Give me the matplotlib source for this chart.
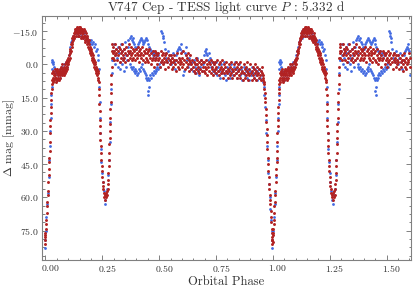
import matplotlib
matplotlib.use("Agg")
import matplotlib.pyplot as plt
import matplotlib.transforms as mtransforms
from matplotlib.ticker import AutoMinorLocator, FuncFormatter

plt.rcParams['font.family'] = 'serif'
plt.rcParams['font.serif'] = ['cmr10', 'DejaVu Serif']
plt.rcParams['mathtext.fontset'] = 'cm'
plt.rcParams['axes.unicode_minus'] = False

# ---------------- data (phase, delta mag [mmag]) ----------------
red_egress = [(-0.004,81),(-0.003,78),(-0.002,79),(-0.001,76),(0.000,77),(0.001,74),(0.003,72),(0.004,70),
              (0.006,67),(0.007,64),(0.009,62),(0.010,59),(0.011,57),(0.013,53),(0.014,50),(0.015,47),
              (0.016,44),(0.017,42),(0.018,39),(0.019,35),(0.020,31),(0.021,28),(0.022,25),(0.023,22),
              (0.024,19),(0.025,16),(0.026,13),(0.027,11),(0.028,9)]
red_early = [(0.029,7),(0.030,4),(0.032,6),(0.033,8),(0.035,3),(0.036,5),(0.038,7),(0.039,4),(0.041,6),
             (0.042,2),(0.044,5),(0.045,8),(0.047,3),(0.048,6),(0.050,4),(0.051,7),(0.053,2),(0.054,5),
             (0.056,3),(0.057,6),(0.059,4),(0.060,7),(0.062,2),(0.063,5),(0.065,3),(0.066,6),(0.068,1),
             (0.069,4),(0.071,2),(0.072,5),(0.074,3),(0.075,0),(0.077,4),(0.078,2),(0.080,5),(0.081,1),
             (0.083,3),(0.084,0),(0.086,2),(0.087,4),(0.089,1),(0.090,3),(0.092,-1),(0.093,2),(0.095,0),
             (0.096,-2)]
red_hump = [(0.097,1),(0.098,-1),(0.100,-3),(0.101,0),(0.103,-2),(0.104,-4),(0.106,-3),(0.107,-6),
            (0.109,-5),(0.110,-7),(0.112,-6),(0.113,-9),(0.115,-8),(0.116,-10),(0.118,-9),(0.119,-12),
            (0.121,-11),(0.122,-13),(0.124,-12),(0.125,-14),(0.127,-13),(0.128,-15),(0.130,-14),
            (0.131,-16),(0.133,-15),(0.134,-13),(0.136,-16),(0.137,-14),(0.139,-17),(0.140,-15),
            (0.142,-13),(0.143,-16),(0.145,-14),(0.146,-17),(0.148,-15),(0.149,-13),(0.151,-16),
            (0.152,-14),(0.154,-17),(0.155,-15),(0.157,-12),(0.158,-16),(0.160,-14),(0.161,-13),
            (0.163,-16),(0.164,-15),(0.166,-12),(0.167,-14),(0.169,-16),(0.170,-13),(0.172,-11),
            (0.173,-15),(0.175,-13),(0.176,-10),(0.178,-12),(0.179,-14),(0.181,-11),(0.182,-13),
            (0.184,-9),(0.185,-12),(0.187,-10),(0.188,-8),(0.190,-11),(0.191,-7),(0.193,-9),(0.194,-6),
            (0.196,-8),(0.197,-5),(0.199,-7),(0.200,-4),(0.202,-6),(0.203,-3),(0.205,-5),(0.206,-2),
            (0.208,-4),(0.209,-1),(0.211,-3),(0.212,0),(0.214,-2),(0.215,1),(0.217,-1),(0.218,2),
            (0.220,0),(0.221,3),(0.223,1),(0.224,4),(0.226,2),(0.227,5),(0.229,3),(0.230,6),(0.232,4),
            (0.233,7)]
red_secondary = [(0.234,8),(0.235,11),(0.236,14),(0.237,18),(0.238,21),(0.239,25),(0.240,28),(0.241,31),
                 (0.242,34),(0.243,37),(0.244,40),(0.245,43),(0.247,46),(0.248,48),(0.250,51),(0.251,53),
                 (0.253,55),(0.255,56),(0.257,58),(0.259,60),(0.261,59),(0.263,61),(0.265,58),(0.267,60),
                 (0.269,57),(0.271,59),(0.273,56),(0.274,54),(0.276,52),(0.277,49),(0.278,46),(0.279,43),
                 (0.280,40),(0.281,36),(0.282,33),(0.283,30),(0.284,27),(0.285,24),(0.286,20),(0.287,17),
                 (0.288,13),(0.289,9),(0.290,5),(0.291,1),(0.292,-3),(0.293,-6),(0.294,-9),(0.295,-5)]
red_plateau = [(0.296,-3),(0.297,-8),(0.301,-6),(0.302,-2),(0.306,-9),(0.307,-4),(0.311,-5),(0.312,-7),
               (0.316,-2),(0.317,-6),(0.321,-4),(0.322,-8),(0.326,-1),(0.327,-7),(0.331,-5),(0.332,-3),
               (0.336,-9),(0.337,-6),(0.341,-4),(0.342,-2),(0.346,-7),(0.347,-3),(0.351,-5),(0.352,-1),
               (0.356,-8),(0.357,-4),(0.361,-6),(0.362,-2),(0.366,-5),(0.367,-9),(0.371,-3),(0.372,-6),
               (0.376,-4),(0.377,-8),(0.381,-2),(0.382,-5),(0.386,-7),(0.387,-3),(0.391,-6),(0.392,-4),
               (0.396,-2),(0.397,-7),(0.401,-5),(0.402,-3),(0.406,-8),(0.407,-4),(0.411,-1),(0.412,-6),
               (0.416,-4),(0.417,-7),(0.421,-3),(0.422,-5),(0.426,-8),(0.427,-2),(0.431,-4),(0.432,-6),
               (0.436,-1),(0.437,-5),(0.441,-7),(0.442,-3),(0.446,-5),(0.447,-2),(0.451,-6),(0.452,-1),
               (0.456,-4),(0.457,-7),(0.461,-3),(0.462,0),(0.466,-5),(0.467,-2),(0.471,-6),(0.472,-3),
               (0.476,1),(0.477,-4),(0.481,-2),(0.482,-6),(0.486,-3),(0.487,-5),(0.491,0),(0.492,-4),
               (0.496,-2),(0.497,-5),(0.501,-3),(0.502,1),(0.506,-6),(0.507,-1),(0.511,-4),(0.512,-2),
               (0.516,0),(0.517,-5),(0.521,-3),(0.522,-1),(0.526,-4),(0.527,2),(0.531,-2),(0.532,-5),
               (0.536,-1),(0.537,-3),(0.541,1),(0.542,-4),(0.546,-2),(0.547,0),(0.551,-4),(0.552,-1),
               (0.556,2),(0.557,-3),(0.561,-1),(0.562,1),(0.566,-4),(0.567,-2),(0.571,0),(0.572,3),
               (0.576,-2),(0.577,-5),(0.581,1),(0.582,-1),(0.586,-3),(0.587,2),(0.591,0),(0.592,-2),
               (0.596,-1),(0.597,-5),(0.601,1),(0.602,-3),(0.606,-6),(0.607,0),(0.611,-2),(0.612,2),
               (0.616,-4),(0.617,-1),(0.621,1),(0.622,-3),(0.626,-5),(0.627,0),(0.631,-2),(0.632,3),
               (0.636,-1),(0.637,-4),(0.641,2),(0.642,0),(0.646,-2),(0.647,1),(0.651,3),(0.652,-1),
               (0.656,0),(0.657,4),(0.661,-3),(0.662,2),(0.666,0),(0.667,-2),(0.671,3),(0.672,1),
               (0.676,-1),(0.677,4),(0.681,2),(0.682,-2),(0.686,0),(0.687,3),(0.691,-1),(0.692,1),
               (0.696,3),(0.697,-1),(0.701,1),(0.702,4),(0.706,-2),(0.707,2),(0.711,0),(0.712,5),
               (0.716,1),(0.717,-1),(0.721,3),(0.722,0),(0.726,4),(0.727,-2),(0.731,2),(0.732,1),
               (0.736,5),(0.737,-1),(0.741,3),(0.742,0),(0.746,2),(0.747,-1),(0.751,4),(0.752,1),
               (0.756,-2),(0.757,3),(0.761,0),(0.762,5),(0.766,2),(0.767,-1),(0.771,4),(0.772,1),
               (0.776,3),(0.777,-2),(0.781,6),(0.782,2),(0.786,0),(0.787,4),(0.791,1),(0.792,3),
               (0.796,-1),(0.797,4),(0.801,2),(0.802,6),(0.806,0),(0.807,3),(0.811,5),(0.812,1),
               (0.816,-1),(0.817,4),(0.821,2),(0.822,6),(0.826,3),(0.827,0),(0.831,5),(0.832,2),
               (0.836,-1),(0.837,4),(0.841,6),(0.842,1),(0.846,3),(0.847,0),(0.851,5),(0.852,2),
               (0.856,6),(0.857,-1),(0.861,4),(0.862,1),(0.866,3),(0.867,7),(0.871,0),(0.872,4),
               (0.876,2),(0.877,6),(0.881,1),(0.882,5),(0.886,3),(0.887,-1),(0.891,4),(0.892,7),
               (0.896,2),(0.897,5),(0.901,0),(0.902,4),(0.906,7),(0.907,3),(0.911,1),(0.912,5),
               (0.916,2),(0.917,6),(0.921,4),(0.922,0),(0.926,7),(0.927,3),(0.931,5),(0.932,1),
               (0.936,4),(0.937,6),(0.941,2),(0.942,5),(0.946,3),(0.947,7),(0.951,4),(0.952,1),
               (0.955,5),(0.956,6)]
red_ingress = [(0.958,7),(0.959,9),(0.961,8),(0.962,11),(0.964,13),(0.965,15),(0.967,17),(0.968,20),
               (0.970,23),(0.971,26),(0.972,29),(0.973,32),(0.975,35),(0.976,38),(0.977,42),(0.978,45),
               (0.980,48),(0.981,51),(0.983,54),(0.984,56),(0.986,59),(0.987,61),(0.989,63),(0.990,66),
               (0.992,69),(0.993,71),(0.995,74),(0.996,76),(0.998,79),(0.999,80)]

blue_egress = [(-0.004,83),(-0.002,79),(0.001,75),(0.004,69),(0.008,63),(0.011,58),(0.014,51),(0.017,43),
               (0.019,37),(0.021,30),(0.023,24),(0.025,18),(0.026,14),(0.028,10)]
blue_early = [(0.027,2),(0.029,-1),(0.031,-2),(0.033,0),(0.035,-1),(0.037,1),(0.040,3),(0.043,6),
              (0.046,4),(0.050,7),(0.054,5),(0.058,3),(0.062,6),(0.066,2),(0.070,4),(0.074,1),(0.078,3),
              (0.082,0),(0.086,2),(0.090,-1),(0.094,1)]
blue_hump = [(0.098,-2),(0.102,-4),(0.106,-6),(0.110,-8),(0.114,-10),(0.118,-11),(0.122,-13),(0.126,-12),
             (0.130,-15),(0.134,-14),(0.138,-16),(0.142,-13),(0.146,-15),(0.150,-14),(0.154,-16),
             (0.158,-13),(0.162,-15),(0.166,-12),(0.170,-14),(0.174,-13),(0.178,-11),(0.182,-12),
             (0.186,-10),(0.190,-11),(0.194,-9),(0.198,-10),(0.202,-11),(0.206,-9),(0.210,-10),
             (0.214,-8),(0.218,-9),(0.222,-6),(0.226,-7),(0.229,-4),(0.232,-2),(0.234,2)]
blue_secondary = [(0.236,10),(0.238,17),(0.240,24),(0.242,31),(0.244,38),(0.246,44),(0.249,49),(0.252,53),
                  (0.256,57),(0.260,61),(0.264,63),(0.268,59),(0.272,56),(0.276,50),(0.279,43),(0.282,35),
                  (0.285,26),(0.287,18),(0.289,11),(0.291,4),(0.293,-2)]
blue_plateau = [(0.296,-2),(0.299,-6),(0.302,-9),(0.305,-4),(0.308,0),(0.311,-7),(0.314,-3),(0.317,1),
                (0.320,-8),(0.323,-5),(0.326,2),(0.329,-1),(0.332,-9),(0.335,-6),(0.338,0),(0.341,-3),
                (0.344,3),(0.347,-7),(0.350,-10),(0.353,-4),(0.356,1),(0.359,-2),(0.362,-8),(0.365,-11),
                (0.368,-5),
                (0.371,-12),(0.375,-13),(0.379,-11),(0.383,-12),(0.387,-10),(0.391,-9),(0.395,-8),
                (0.399,-7),(0.403,-8),(0.407,-9),(0.411,-10),(0.415,-11),(0.419,-12),(0.423,-11),
                (0.427,-10),(0.431,-9),(0.435,-10),(0.439,-11),(0.443,-12),(0.447,-11),(0.451,-9),
                (0.455,-8),(0.459,-7),(0.463,-6),(0.467,-5),(0.471,-6),(0.475,-4),(0.479,-5),(0.483,-3),
                (0.487,-4),(0.491,-5),(0.495,-4),
                (0.372,0),(0.376,1),(0.380,2),(0.384,1),(0.388,3),(0.392,2),(0.396,4),(0.400,3),(0.404,5),
                (0.408,4),(0.412,2),(0.416,3),(0.420,1),(0.424,0),(0.428,2),(0.432,3),(0.436,4),(0.440,5),
                (0.444,6),(0.448,7),(0.452,6),(0.456,7),(0.460,5),(0.464,6),(0.468,4),(0.472,5),(0.476,3),
                (0.480,4),(0.484,2),(0.488,3),(0.492,1),(0.496,2),(0.500,0),(0.504,1),(0.508,-1),
                (0.449,12),(0.452,14),(0.454,10),(0.510,-15),(0.513,-14),(0.516,-13),(0.518,-12),
                (0.520,-10),
                (0.524,-7),(0.528,-3),(0.532,-5),(0.536,-1),(0.540,-6),(0.544,-2),(0.548,-4),(0.552,0),
                (0.556,-3),(0.560,-5),(0.564,-1),(0.568,2),(0.572,-2),(0.576,-4),(0.580,-6),(0.584,-7),
                (0.588,-8),(0.592,-7),(0.596,-9),(0.600,-6),(0.604,5),(0.608,3),(0.612,-5),(0.616,-8),
                (0.620,-4),(0.624,-2),(0.628,1),(0.632,-3),(0.636,0),(0.640,2),(0.644,-1),(0.648,3),
                (0.652,-2),(0.656,1),(0.660,4),(0.664,0),(0.668,-3),(0.672,2),(0.676,5),(0.680,1),
                (0.684,-2),(0.688,3),(0.692,0),(0.696,-4),(0.700,-6),(0.704,-5),(0.708,-7),(0.712,-4),
                (0.716,-2),(0.720,-5),(0.724,-3),(0.728,1),(0.732,-1),(0.736,3),(0.740,0),(0.744,4),
                (0.748,2),(0.752,-1),(0.756,5),(0.760,1),(0.764,3),(0.768,6),(0.772,0),(0.776,4),
                (0.780,2),(0.784,-1),(0.788,5),(0.792,3),(0.796,7),(0.800,1),(0.804,4),(0.808,2),
                (0.812,6),(0.816,0),(0.820,3),(0.824,5),(0.828,1),(0.832,-1),(0.836,4),(0.840,2),
                (0.844,6),(0.848,3),(0.852,0),(0.856,5),(0.860,2),(0.864,7),(0.868,4),(0.872,1),
                (0.876,5),(0.880,3),(0.884,6),(0.888,2),(0.892,4),(0.896,7),(0.900,3),(0.904,5),
                (0.908,1),(0.912,4),(0.916,6),(0.920,2),(0.924,5),(0.928,3),(0.932,7),(0.936,4),
                (0.940,2),(0.944,6),(0.948,3),(0.952,5),(0.956,8)]
blue_ingress = [(0.959,10),(0.962,14),(0.965,19),(0.968,25),(0.971,31),(0.974,37),(0.977,43),(0.980,49),
                (0.983,54),(0.986,60),(0.989,65),(0.992,70),(0.995,75),(0.998,79)]

red_points = red_egress + red_early + red_hump + red_secondary + red_plateau + red_ingress
blue_points = blue_egress + blue_early + blue_hump + blue_secondary + blue_plateau + blue_ingress

x_ticks = [0.00, 0.25, 0.50, 0.75, 1.00, 1.25, 1.50]
y_ticks = [-15.0, 0.0, 15.0, 30.0, 45.0, 60.0, 75.0]
x_max = 1.605


def folded(points):
    xs = [p for p, m in points] + [p + 1 for p, m in points if p + 1 <= x_max]
    ys = [m for p, m in points] + [m for p, m in points if p + 1 <= x_max]
    return xs, ys


fig = plt.figure(figsize=(4.15, 2.88), dpi=100)
ax = fig.add_axes([0.1012, 0.0972, 0.888, 0.848])

bx, by = folded(blue_points)
rx, ry = folded(red_points)
ax.scatter(bx, by, s=4.0, color='#4169e1', linewidths=0, zorder=2)
ax.scatter(rx, ry, s=4.5, color='#b22222', linewidths=0, zorder=3)

ax.set_xlim(-0.015, x_max)
ax.set_ylim(88.2, -21.9)
ax.set_xticks(x_ticks)
ax.set_yticks(y_ticks)
ax.xaxis.set_minor_locator(AutoMinorLocator(5))
ax.yaxis.set_minor_locator(AutoMinorLocator(4))
ax.xaxis.set_major_formatter(FuncFormatter(lambda v, pos: f'${v:.2f}$'))
ax.yaxis.set_major_formatter(FuncFormatter(lambda v, pos: f'${v:.1f}$'))

grey = '#808080'
for sp in ax.spines.values():
    sp.set_color(grey)
    sp.set_linewidth(0.8)
ax.tick_params(which='both', direction='in', top=True, right=True, color=grey,
               labelcolor='#333333', labelsize=7, width=0.7)
ax.tick_params(which='major', length=3.5, pad=2.5)
ax.tick_params(which='minor', length=1.8)

offset = mtransforms.ScaledTranslation(5 / 100, 0, fig.dpi_scale_trans)
for lab in ax.get_xticklabels():
    lab.set_transform(lab.get_transform() + offset)

ax.set_title('V747 Cep - TESS light curve $P$ : 5.332 d', fontsize=9.5, color='#333333', pad=3)
ax.set_xlabel('Orbital Phase', fontsize=9, color='#333333', labelpad=1)
ax.set_ylabel(r'$\Delta$ mag [mmag]', fontsize=8.5, color='#333333')
ax.yaxis.set_label_coords(-0.068, 0.5)

fig.savefig('out.png', dpi=100)
